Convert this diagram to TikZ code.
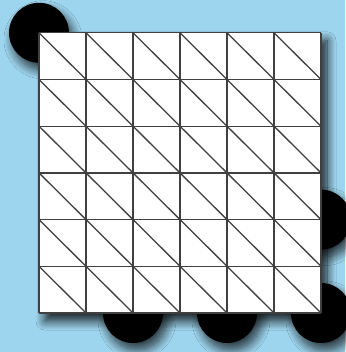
\documentclass[tikz,border=0pt]{standalone}
\usetikzlibrary{shadows.blur}
\definecolor{skyback}{RGB}{158,213,238}
\tikzset{
  blob/.style={fill=black,blur shadow={shadow xshift=4pt,shadow yshift=-7pt,shadow blur steps=12,shadow blur radius=9pt,shadow opacity=75}},
  sheet/.style={fill=white,blur shadow={shadow xshift=6pt,shadow yshift=-8pt,shadow blur steps=12,shadow blur radius=9pt,shadow opacity=85}},
  mesh/.style={draw=black!75,line width=1.3pt}
}

\begin{document}
\begin{tikzpicture}[x=47pt,y=46.7pt]
  % backdrop and frame
  \fill[skyback] (-39pt,-39pt) rectangle (306pt,313pt);
  \useasboundingbox (-39pt,-39pt) rectangle (306pt,313pt);
  % discs behind the sheet
  \foreach \p in {(0,6),(2,0),(4,0),(6,0),(6,2)}
    \fill[blob] \p circle (30pt);
  % the triangulated square
  \fill[sheet] (0,0) rectangle (6,6);
  \foreach \i in {0,...,6} {
    \draw[mesh] (\i,0) -- (\i,6);
    \draw[mesh] (0,\i) -- (6,\i);
  }
  \foreach \i in {0,...,5}
    \foreach \j in {0,...,5}
      \draw[mesh] (\i,\j+1) -- (\i+1,\j);
\end{tikzpicture}
\end{document}
